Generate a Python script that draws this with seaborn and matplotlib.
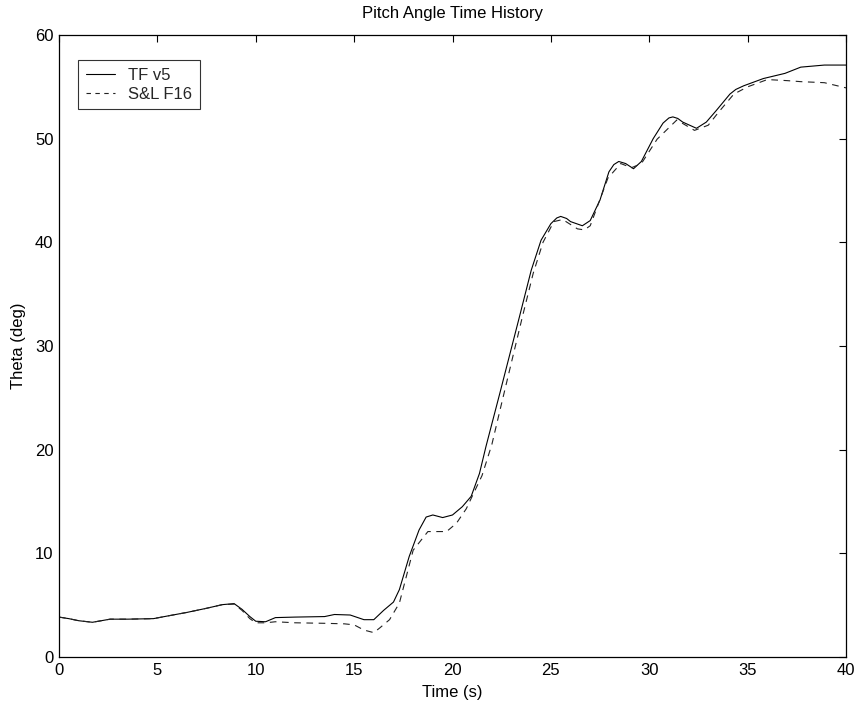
import matplotlib
matplotlib.use("Agg")
import matplotlib.pyplot as plt
import seaborn as sns
import pandas as pd

# TF v5 (solid)
t_tf = [0, 0.5, 1, 1.7, 2.6, 3.5, 4.8, 5.5, 6.5, 7.5, 8.3, 8.9, 9.3, 9.7, 10.0, 10.5,
        11.0, 12, 13.5, 14.0, 14.8, 15.5, 16.0, 16.5, 17.0, 17.3, 17.8, 18.3, 18.66,
        19.0, 19.5, 20.0, 20.5, 20.95, 21.37, 21.7, 22.05, 22.4, 23.4, 24.0, 24.5,
        25.0, 25.3, 25.5, 25.8, 26.0, 26.6, 27.0, 27.5, 27.95, 28.2, 28.45, 28.8,
        29.2, 29.6, 30.2, 30.7, 31.0, 31.2, 31.45, 31.7, 32.4, 32.9, 33.4, 34.1,
        34.4, 34.8, 35.8, 36.9, 37.7, 38.9, 40]
th_tf = [3.85, 3.7, 3.5, 3.35, 3.65, 3.65, 3.7, 3.95, 4.3, 4.7, 5.05, 5.15, 4.6, 3.9,
         3.45, 3.4, 3.8, 3.85, 3.9, 4.1, 4.05, 3.6, 3.6, 4.5, 5.3, 6.5, 9.7, 12.25,
         13.5, 13.7, 13.45, 13.7, 14.5, 15.5, 17.7, 20.3, 22.85, 25.4, 32.8, 37.3,
         40.2, 41.8, 42.35, 42.5, 42.3, 42.0, 41.6, 42.1, 44.1, 46.8, 47.5, 47.8, 47.6,
         47.1, 47.8, 50.0, 51.5, 52.0, 52.1, 51.95, 51.6, 51.0, 51.6, 52.7, 54.3,
         54.75, 55.1, 55.8, 56.3, 56.9, 57.1, 57.1]

# S&L F16 (dashed)
t_sl = [0, 0.5, 1, 1.7, 2.6, 3.5, 4.8, 5.5, 6.5, 7.5, 8.3, 8.9, 9.3, 9.7, 10.0, 10.5,
        11.0, 12, 13.5, 14.5, 15.0, 15.5, 16.0, 16.3, 16.8, 17.3, 18.0, 18.75, 19.3,
        19.7, 20.2, 20.7, 21.0, 21.5, 22.0, 22.5, 23.55, 24.1, 24.6, 25.15, 25.6,
        26.35, 26.7, 27.0, 27.9, 28.55, 29.1, 29.6, 30.4, 31.4, 32.3, 33.0, 33.5,
        34.3, 35.0, 36.0, 37.0, 37.7, 38.9, 40]
th_sl = [3.85, 3.7, 3.5, 3.35, 3.65, 3.65, 3.7, 3.95, 4.3, 4.7, 5.05, 5.1, 4.5, 3.7,
         3.3, 3.3, 3.4, 3.3, 3.25, 3.2, 3.1, 2.6, 2.35, 2.8, 3.6, 5.2, 10.3, 12.1,
         12.1, 12.1, 12.9, 14.3, 15.5, 17.5, 20.5, 24.5, 32.8, 37.0, 40.0, 42.0,
         42.2, 41.3, 41.2, 41.6, 46.2, 47.6, 47.2, 47.6, 49.95, 51.8, 50.8, 51.3,
         52.5, 54.3, 55.0, 55.7, 55.6, 55.5, 55.4, 54.9]

labels = ["TF v5", "S&L F16"]
x_ticks = [0, 5, 10, 15, 20, 25, 30, 35, 40]
y_ticks = [0, 10, 20, 30, 40, 50, 60]

sns.set_theme(style="white")
plt.rcParams["font.family"] = ["Liberation Sans", "DejaVu Sans"]
plt.rcParams["font.size"] = 12

fig = plt.figure(figsize=(8.58, 7.08), dpi=100)
ax = fig.add_axes([59 / 858, 1 - 657 / 708, (846 - 59) / 858, (657 - 35) / 708])

df1 = pd.DataFrame({"t": t_tf, "theta": th_tf})
df2 = pd.DataFrame({"t": t_sl, "theta": th_sl})
sns.lineplot(data=df1, x="t", y="theta", ax=ax, color="black", linewidth=0.8,
             label=labels[0])
sns.lineplot(data=df2, x="t", y="theta", ax=ax, color="#222222", linewidth=0.8,
             label=labels[1])
ax.lines[1].set_dashes((6, 5))

ax.set_xlim(0, 40)
ax.set_ylim(0, 60)
ax.set_xticks(x_ticks)
ax.set_yticks(y_ticks)
ax.tick_params(direction="in", length=5, width=0.8, top=True, right=True,
               labelsize=12, colors="black", pad=4)
for s in ax.spines.values():
    s.set_visible(True)
    s.set_color("black")
    s.set_linewidth(0.9)

ax.set_xlabel("Time (s)", fontsize=12, color="black", labelpad=5)
ax.set_ylabel("Theta (deg)", fontsize=12, color="black", labelpad=6)
ax.set_title("Pitch Angle Time History", fontsize=12, color="black", pad=12)

leg = ax.legend(loc="upper left", bbox_to_anchor=(19 / 787, 1 - 25 / 622),
                borderaxespad=0, frameon=True, fancybox=False, edgecolor="black",
                handlelength=1.75, handletextpad=0.8, borderpad=0.45,
                labelspacing=0.25, fontsize=12)
leg.get_frame().set_linewidth(0.8)
leg.get_lines()[1].set_dashes((4, 4))

fig.savefig("out.png", dpi=100)
